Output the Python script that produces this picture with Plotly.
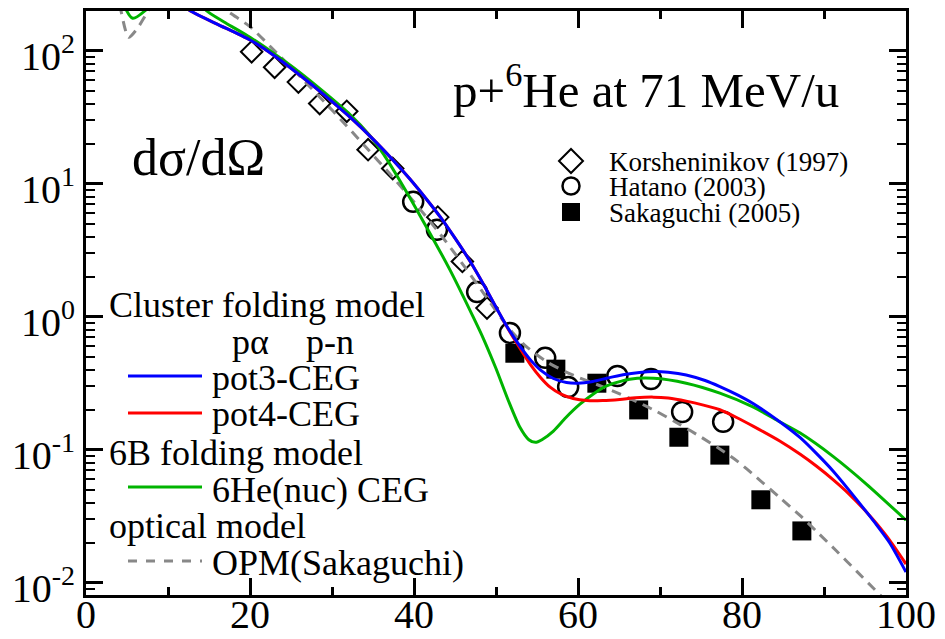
import numpy as np
import plotly.graph_objects as go

# ---------------- measured cross sections (mb/sr) ----------------
kor_angle = [20.2, 23.0, 25.9, 28.5, 31.8, 34.4, 37.4, 42.9, 45.9, 48.9]
kor_xs = [98, 75, 58, 40, 35, 18, 13, 5.6, 2.6, 1.16]

hat_angle = [39.9, 42.8, 47.7, 51.7, 56.0, 58.8, 64.8, 68.9, 72.7, 77.7]
hat_xs = [7.3, 4.5, 1.53, 0.755, 0.49, 0.296, 0.358, 0.34, 0.192, 0.162]

sak_angle = [52.3, 57.3, 62.3, 67.4, 72.3, 77.3, 82.3, 87.3]
sak_xs = [0.531, 0.403, 0.316, 0.199, 0.124, 0.091, 0.042, 0.0245]

# ---------------- model calculations (log10 of dσ/dΩ) ----------------
pot3_angle = [8, 10, 12.7, 16, 20, 23, 26.1, 29, 32.2, 35, 37.4, 39.5, 41.5, 43.2,
              45, 46.8, 48.5, 50.1, 51.5, 52.9, 54.2, 55.4, 57, 58.6, 60, 61.8,
              63.5, 65.5, 67.5, 69.2, 71, 73.2, 75.5, 77.3, 79.5, 81.4, 84.6,
              87.1, 89.1, 91.1, 93, 95.2, 96.4, 98, 100]
pot3_log = [2.52, 2.43, 2.30, 2.20, 2.08, 1.96, 1.815, 1.67, 1.50, 1.335, 1.18, 1.035,
            0.885, 0.75, 0.59, 0.42, 0.24, 0.06, -0.09, -0.22, -0.325, -0.40, -0.465,
            -0.495, -0.50, -0.487, -0.463, -0.437, -0.42, -0.413, -0.418, -0.438, -0.48,
            -0.526, -0.59, -0.655, -0.79, -0.91, -1.03, -1.16, -1.30, -1.47, -1.565,
            -1.70, -1.92]

pot4_angle = [8, 10, 12.7, 16, 20, 23, 26.1, 29, 32.2, 35, 37.4, 39.5, 41.5, 43.2,
              45, 46.8, 48.5, 50.1, 51.5, 52.9, 54.2, 55.4, 56.6, 58, 59.4, 61.1,
              63, 65.1, 67, 69.2, 71, 73.2, 75.3, 77.3, 79.4, 81.4, 84.6, 87.1,
              89.1, 91.1, 93, 95.2, 96.4, 98, 100]
pot4_log = [2.52, 2.43, 2.30, 2.20, 2.08, 1.96, 1.815, 1.67, 1.50, 1.335, 1.18, 1.035,
            0.885, 0.75, 0.59, 0.42, 0.24, 0.06, -0.095, -0.235, -0.36, -0.455, -0.53,
            -0.585, -0.615, -0.63, -0.63, -0.622, -0.61, -0.605, -0.612, -0.635, -0.665,
            -0.70, -0.76, -0.825, -0.935, -1.035, -1.125, -1.225, -1.33, -1.47, -1.555,
            -1.68, -1.86]

he6_angle = [3.5, 4.5, 5.7, 7.2, 9, 11, 13.3, 14.7, 17, 20, 23, 26.1, 29, 32.2,
             34.5, 36.3, 38.3, 41.1, 44.4, 47.2, 48.5, 50.0, 51.5, 52.9, 54.0, 54.8,
             55.6, 57.0, 58.5, 60.2, 62, 63.5, 66.3, 69.2, 73.2, 77.3, 81.4, 84.6,
             87.1, 91.1, 95.2, 100]
he6_log = [2.60, 2.36, 2.243, 2.30, 2.43, 2.52, 2.42, 2.30, 2.21, 2.10, 1.975, 1.835,
           1.69, 1.52, 1.37, 1.22, 1.02, 0.72, 0.35, 0.0, -0.17, -0.39, -0.63, -0.83,
           -0.925, -0.945, -0.925, -0.86, -0.76, -0.66, -0.575, -0.52, -0.47, -0.463,
           -0.50, -0.575, -0.68, -0.79, -0.875, -1.05, -1.26, -1.53]

opm_angle = [3.5, 4.3, 5.2, 6.3, 7.6, 9.5, 12, 15, 17.2, 20, 23.3, 26.1, 30.2, 34.2,
             37.1, 39.9, 43.2, 46.0, 48.9, 51.0, 52.1, 53.7, 56.2, 58.5, 60.2, 62.3,
             64.5, 67.2, 69.5, 72.4, 75, 77.3, 79.5, 81.8, 84.6, 87, 89.1, 91.5,
             94.0, 96, 98]
opm_log = [2.60, 2.29, 2.10, 2.17, 2.30, 2.45, 2.50, 2.42, 2.30, 2.18, 1.98, 1.805,
           1.54, 1.27, 1.07, 0.87, 0.62, 0.39, 0.14, -0.04, -0.125, -0.225, -0.34,
           -0.415, -0.46, -0.51, -0.565, -0.64, -0.71, -0.81, -0.905, -0.995, -1.09,
           -1.21, -1.36, -1.49, -1.615, -1.76, -1.915, -2.04, -2.165]

x_ticks = [0, 20, 40, 60, 80, 100]
y_decades = [-2, -1, 0, 1, 2]

SERIF = "Liberation Serif"
BLUE, RED, GREEN, GRAY = "#0000ff", "#ff0000", "#00b400", "#888888"

fig = go.Figure()

# data points
fig.add_trace(go.Scatter(x=kor_angle, y=kor_xs, mode="markers", name="Korsheninikov (1997)",
                         marker=dict(symbol="diamond-open", size=16.5, color="black",
                                     line=dict(width=2, color="black"))))
fig.add_trace(go.Scatter(x=hat_angle, y=hat_xs, mode="markers", name="Hatano (2003)",
                         marker=dict(symbol="circle-open", size=20, color="black",
                                     line=dict(width=2.5, color="black"))))
fig.add_trace(go.Scatter(x=sak_angle, y=sak_xs, mode="markers", name="Sakaguchi (2005)",
                         marker=dict(symbol="square", size=19, color="black",
                                     line=dict(width=0))))

# model curves
for ang, lg, col, dash, nm in [
    (opm_angle, opm_log, GRAY, "10px,7px", "OPM(Sakaguchi)"),
    (he6_angle, he6_log, GREEN, "solid", "6He(nuc) CEG"),
    (pot4_angle, pot4_log, RED, "solid", "pot4-CEG"),
    (pot3_angle, pot3_log, BLUE, "solid", "pot3-CEG"),
]:
    fig.add_trace(go.Scatter(x=ang, y=np.power(10.0, lg), mode="lines", name=nm,
                             line=dict(color=col, width=3, dash=dash,
                                       shape="spline", smoothing=0.7)))

# axes
L, R, T, B = 86, 39, 11, 44
W, H = 945, 639
pw, ph = W - L - R, H - T - B

def px(xp):
    return (xp - L) / pw

def py(yp):
    return (H - B - yp) / ph

fig.update_xaxes(range=[0, 100], tickvals=x_ticks, ticks="inside", ticklen=17,
                 tickwidth=2.5, tickcolor="black", showline=True, linewidth=3,
                 linecolor="black", mirror="ticks", showgrid=False, zeroline=False,
                 automargin=False, ticklabelstandoff=-18,
                 tickfont=dict(family=SERIF, size=40, color="black"),
                 minor=dict(dtick=10, tick0=0, ticks="inside", ticklen=8, tickwidth=2.5,
                            tickcolor="black", showgrid=False))

minor_y = [m * 10.0 ** d for d in [-3] + y_decades for m in range(2, 10)]
fig.update_yaxes(type="log", range=[np.log10(0.00808), np.log10(198.6)],
                 tickvals=[10.0 ** d for d in y_decades],
                 ticktext=["10<sup>%d</sup>" % d for d in y_decades],
                 ticks="inside", ticklen=17, tickwidth=2.5, tickcolor="black",
                 showline=True, linewidth=3, linecolor="black", mirror="ticks",
                 showgrid=False, zeroline=False, automargin=False, ticklabelshift=5,
                 tickfont=dict(family=SERIF, size=40, color="black"),
                 minor=dict(tickvals=minor_y, ticks="inside", ticklen=9, tickwidth=2,
                            tickcolor="black", showgrid=False))

annotations = []
shapes = []

def label(text, xp, yp, size):
    annotations.append(dict(text=text, x=px(xp), y=py(yp), xref="paper", yref="paper",
                            xanchor="left", yanchor="middle", showarrow=False,
                            font=dict(family=SERIF, size=size, color="black")))

label("p+<sup>6</sup>He at 71 MeV/u", 451, 86, 49)
label("dσ/dΩ", 130, 158, 52)

# data legend (upper right)
for yp, txt in [(161, "Korsheninikov (1997)"), (186, "Hatano (2003)"), (212, "Sakaguchi (2005)")]:
    label(txt, 607, yp + 1, 27)
mx = px(571)
shapes.append(dict(type="path", xref="paper", yref="paper", xsizemode="pixel",
                   ysizemode="pixel", xanchor=mx, yanchor=py(161),
                   path="M -12,0 L 0,12 L 12,0 L 0,-12 Z",
                   line=dict(color="black", width=2), fillcolor="rgba(0,0,0,0)"))
shapes.append(dict(type="circle", xref="paper", yref="paper", xsizemode="pixel",
                   ysizemode="pixel", xanchor=mx, yanchor=py(186), x0=-8.5, x1=8.5,
                   y0=-8.5, y1=8.5, line=dict(color="black", width=2.5)))
shapes.append(dict(type="rect", xref="paper", yref="paper", xsizemode="pixel",
                   ysizemode="pixel", xanchor=mx, yanchor=py(212), x0=-9, x1=9,
                   y0=-9, y1=9, line=dict(width=0), fillcolor="black"))

# model legend (lower left)
label("Cluster folding model", 107, 305, 36)
label("pα", 230, 342, 36)
label("p-n", 304, 342, 36)
label("pot3-CEG", 210, 378, 36)
label("pot4-CEG", 210, 414, 36)
label("6B folding model", 107, 453, 36)
label("6He(nuc) CEG", 210, 490, 36)
label("optical model", 107, 526, 36)
label("OPM(Sakaguchi)", 210, 563, 36)
for yp, col, dash in [(376, BLUE, "solid"), (413, RED, "solid"),
                      (487, GREEN, "solid"), (561, GRAY, "dash")]:
    shapes.append(dict(type="line", xref="paper", yref="paper",
                       x0=px(128), x1=px(202), y0=py(yp), y1=py(yp),
                       line=dict(color=col, width=3, dash=dash)))

fig.update_layout(width=W, height=H, margin=dict(l=L, r=R, t=T, b=B),
                  paper_bgcolor="white", plot_bgcolor="white", showlegend=False,
                  annotations=annotations, shapes=shapes)

fig.write_html("out.html")
